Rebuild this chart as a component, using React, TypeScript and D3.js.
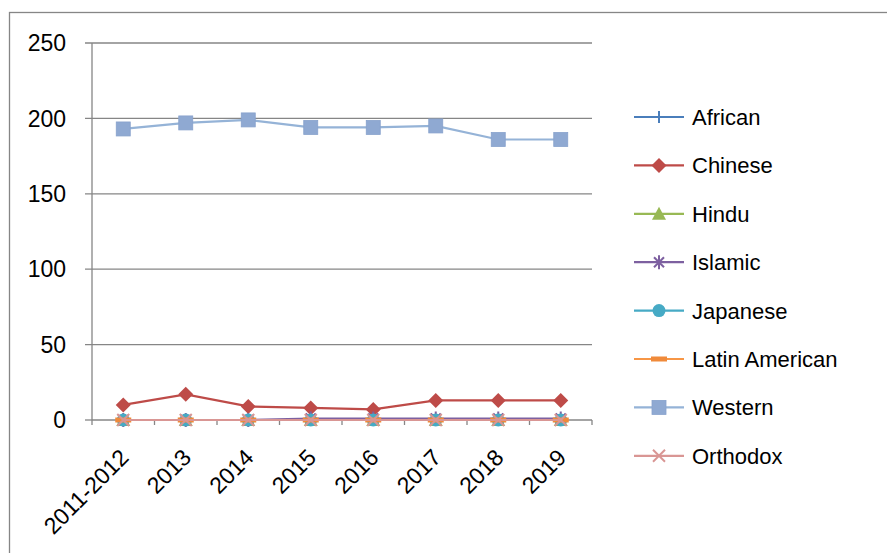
import React from "react";
import * as d3 from "d3";

const categories = ["2011-2012", "2013", "2014", "2015", "2016", "2017", "2018", "2019"];
const african = [0, 0, 0, 0, 0, 0, 0, 0];
const chinese = [10, 17, 9, 8, 7, 13, 13, 13];
const hindu = [0, 0, 0, 0, 0, 0, 0, 0];
const islamic = [0, 0, 0, 1, 1, 1, 1, 1];
const japanese = [0, 0, 0, 0, 0, 0, 0, 0];
const latinAmerican = [0, 0, 0, 0, 0, 0, 0, 0];
const western = [193, 197, 199, 194, 194, 195, 186, 186];
const orthodox = [0, 0, 0, 0, 0, 0, 0, 0];
const yTicks = [0, 50, 100, 150, 200, 250];

type Marker = "plus" | "diamond" | "triangle" | "star" | "circle" | "dash" | "square" | "x";

const series: { name: string; values: number[]; color: string; fill: string; marker: Marker }[] = [
  { name: "African", values: african, color: "#4a7ebb", fill: "#4a7ebb", marker: "plus" },
  { name: "Chinese", values: chinese, color: "#be4b48", fill: "#be4b48", marker: "diamond" },
  { name: "Hindu", values: hindu, color: "#98b954", fill: "#98b954", marker: "triangle" },
  { name: "Islamic", values: islamic, color: "#7d60a0", fill: "#7d60a0", marker: "star" },
  { name: "Japanese", values: japanese, color: "#46aac5", fill: "#46aac5", marker: "circle" },
  { name: "Latin American", values: latinAmerican, color: "#f79646", fill: "#f08a3a", marker: "dash" },
  { name: "Western", values: western, color: "#95b3d7", fill: "#8fa9d2", marker: "square" },
  { name: "Orthodox", values: orthodox, color: "#d99694", fill: "#d99694", marker: "x" },
];

const W = 887;
const H = 553;
const plot = { left: 92, right: 592, top: 43, bottom: 420 };
const font = "'Liberation Sans', Arial, sans-serif";
const grid = "#868686";

function MarkerShape({ type, x, y, color, fill }: { type: Marker; x: number; y: number; color: string; fill: string }) {
  switch (type) {
    case "plus":
      return <path d={`M${x - 5},${y}H${x + 5}M${x},${y - 6}V${y + 6}`} stroke={color} strokeWidth={2} />;
    case "diamond":
      return <path d={`M${x},${y - 7.5}L${x + 7.5},${y}L${x},${y + 7.5}L${x - 7.5},${y}Z`} fill={fill} />;
    case "triangle":
      return <path d={`M${x},${y - 7}L${x + 7},${y + 6}L${x - 7},${y + 6}Z`} fill={fill} />;
    case "star":
      return (
        <path
          d={`M${x - 5},${y - 5}L${x + 5},${y + 5}M${x - 5},${y + 5}L${x + 5},${y - 5}M${x},${y - 7}V${y + 7}`}
          stroke={color}
          strokeWidth={2}
        />
      );
    case "circle":
      return <circle cx={x} cy={y} r={6.5} fill={fill} />;
    case "dash":
      return <rect x={x - 8} y={y - 2.5} width={16} height={5} fill={fill} />;
    case "square":
      return <rect x={x - 7} y={y - 7} width={14} height={14} fill={fill} stroke="#88a2cc" strokeWidth={0.8} />;
    case "x":
      return (
        <path d={`M${x - 6},${y - 6}L${x + 6},${y + 6}M${x - 6},${y + 6}L${x + 6},${y - 6}`} stroke={color} strokeWidth={2} />
      );
  }
}

export default function App() {
  const x = d3.scaleBand<string>().domain(categories).range([plot.left, plot.right]);
  const y = d3.scaleLinear().domain([0, 250]).range([plot.bottom, plot.top]);
  const cx = (c: string) => (x(c) as number) + x.bandwidth() / 2;
  const line = d3
    .line<number>()
    .x((_, i) => cx(categories[i]))
    .y((v) => y(v));

  const legendX = 659;
  const legendY0 = 117;
  const legendStep = 48.4;

  return (
    <svg
      width={W}
      height={H}
      style={{ position: "fixed", left: 0, top: 0, background: "#fff", display: "block" }}
      fontFamily={font}
    >
      <rect x={0} y={0} width={W} height={H} fill="#fff" />
      {/* chart area frame */}
      <rect x={9.5} y={12.5} width={W + 20} height={H + 20} fill="none" stroke={grid} strokeWidth={1.3} />

      {/* horizontal gridlines and y ticks */}
      {yTicks.map((t) => (
        <g key={t}>
          <line
            x1={85}
            x2={t === 0 ? plot.left : plot.right}
            y1={y(t)}
            y2={y(t)}
            stroke={grid}
            strokeWidth={1.3}
          />
          <text x={66} y={y(t)} dy="0.36em" textAnchor="end" fontSize={23} fill="#000">
            {t}
          </text>
        </g>
      ))}

      {/* y axis */}
      <line x1={plot.left} x2={plot.left} y1={plot.top} y2={plot.bottom + 5} stroke={grid} strokeWidth={1.3} />
      {/* x axis */}
      <line x1={plot.left} x2={plot.right} y1={plot.bottom} y2={plot.bottom} stroke={grid} strokeWidth={1.3} />
      {categories.map((c) => (
        <line
          key={c}
          x1={(x(c) as number) + x.bandwidth()}
          x2={(x(c) as number) + x.bandwidth()}
          y1={plot.bottom}
          y2={plot.bottom + 5}
          stroke={grid}
          strokeWidth={1.3}
        />
      ))}
      {categories.map((c) => (
        <text
          key={c}
          transform={`translate(${cx(c) + 1},${plot.bottom + 33}) rotate(-45)`}
          textAnchor="end"
          dy="0.36em"
          fontSize={23}
          fill="#000"
        >
          {c}
        </text>
      ))}

      {/* series lines and markers */}
      {series.map((s) => (
        <g key={s.name}>
          <path d={line(s.values) ?? ""} fill="none" stroke={s.color} strokeWidth={2.2} />
          {s.values.map((v, i) => (
            <MarkerShape key={i} type={s.marker} x={cx(categories[i])} y={y(v)} color={s.color} fill={s.fill} />
          ))}
        </g>
      ))}

      {/* legend */}
      {series.map((s, i) => {
        const ly = legendY0 + i * legendStep;
        return (
          <g key={s.name}>
            <line x1={634} x2={684} y1={ly} y2={ly} stroke={s.color} strokeWidth={2.2} />
            <MarkerShape type={s.marker} x={legendX} y={ly} color={s.color} fill={s.fill} />
            <text x={692} y={ly} dy="0.36em" fontSize={22} fill="#000">
              {s.name}
            </text>
          </g>
        );
      })}
    </svg>
  );
}
